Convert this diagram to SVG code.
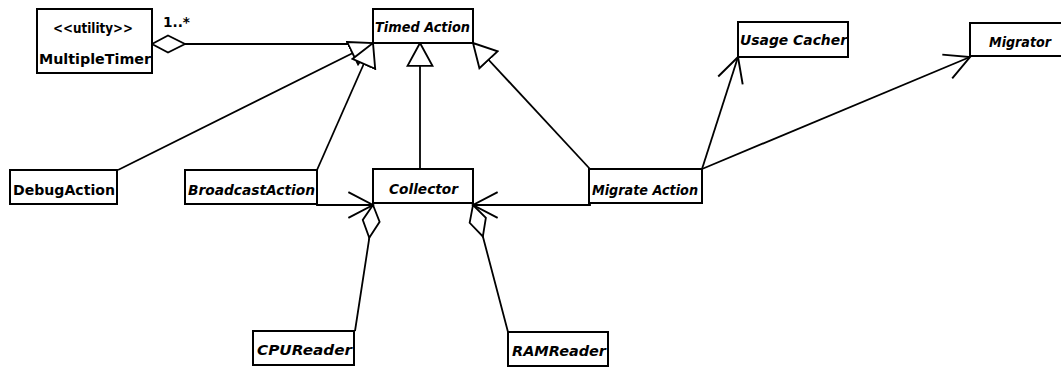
<svg xmlns="http://www.w3.org/2000/svg" width="1061" height="367" viewBox="0 0 1061 367">
<style>
.box{fill:#fff;stroke:#000;stroke-width:2}
.t{font-family:"DejaVu Sans","Liberation Sans",sans-serif;font-weight:bold;font-size:13.5px;fill:#000}
.i{font-style:italic}
.c{fill:none;stroke:#000;stroke-width:1.8}
</style>
<defs>
<marker id="gen" markerUnits="userSpaceOnUse" markerWidth="26" markerHeight="28" viewBox="-1 -13 25 26" refX="22" refY="0" orient="auto">
<path d="M0,-12 L22,0 L0,12 Z" fill="#fff" stroke="#000" stroke-width="1.8"/>
</marker>
<marker id="open" markerUnits="userSpaceOnUse" markerWidth="28" markerHeight="30" viewBox="-1 -14 26 28" refX="23" refY="0" orient="auto">
<path d="M0,-12 L23,0 L0,12" fill="none" stroke="#000" stroke-width="1.8"/>
</marker>
<marker id="agg" markerUnits="userSpaceOnUse" markerWidth="38" markerHeight="20" viewBox="-1 -10 37 20" refX="0" refY="0" orient="auto">
<path d="M0,0 L16,-8.5 L33,0 L16,8.5 Z" fill="#fff" stroke="#000" stroke-width="1.8"/>
</marker>
</defs>
<rect width="1061" height="367" fill="#fff"/>
<g id="connectors">
<path class="c" d="M152,44 L373,44" marker-start="url(#agg)"/>
<path class="c" d="M118,170 L373,43" marker-end="url(#gen)"/>
<path class="c" d="M317,170 L373,43" marker-end="url(#gen)"/>
<path class="c" d="M420,169 L420,43" marker-end="url(#gen)"/>
<path class="c" d="M590,169 L473,43" marker-end="url(#gen)"/>
<path class="c" d="M317,204 L317,205 L373,205" marker-end="url(#open)"/>
<path class="c" d="M590,203 L590,205 L473,205" marker-end="url(#open)"/>
<path class="c" d="M373,205 L369,240 L355,331" marker-start="url(#agg)"/>
<path class="c" d="M473,205 L483,237 L508,332" marker-start="url(#agg)"/>
<path class="c" d="M702,169 L738,57" marker-end="url(#open)"/>
<path class="c" d="M702,169 L970,57" marker-end="url(#open)"/>
<text class="t" x="163" y="27" textLength="27" lengthAdjust="spacingAndGlyphs">1..*</text>
</g>
<g id="MultipleTimer">
<rect class="box" x="37" y="9" width="115" height="64"/>
<text class="t" x="53" y="33" textLength="80" lengthAdjust="spacingAndGlyphs">&lt;&lt;utility&gt;&gt;</text>
<text class="t" x="39" y="64" textLength="112" lengthAdjust="spacingAndGlyphs">MultipleTimer</text>
</g>
<g id="TimedAction">
<rect class="box" x="373" y="9" width="100" height="34"/>
<text class="t i" x="375" y="32" textLength="95" lengthAdjust="spacingAndGlyphs">Timed Action</text>
</g>
<g id="DebugAction">
<rect class="box" x="10" y="170" width="107" height="34"/>
<text class="t" x="13" y="195" textLength="102" lengthAdjust="spacingAndGlyphs">DebugAction</text>
</g>
<g id="BroadcastAction">
<rect class="box" x="185" y="170" width="132" height="34"/>
<text class="t i" x="188" y="195" textLength="127" lengthAdjust="spacingAndGlyphs">BroadcastAction</text>
</g>
<g id="Collector">
<rect class="box" x="373" y="169" width="100" height="34"/>
<text class="t i" x="389" y="194" textLength="69" lengthAdjust="spacingAndGlyphs">Collector</text>
</g>
<g id="MigrateAction">
<rect class="box" x="589" y="169" width="113" height="34"/>
<text class="t i" x="592" y="195" textLength="106" lengthAdjust="spacingAndGlyphs">Migrate Action</text>
</g>
<g id="UsageCacher">
<rect class="box" x="738" y="22" width="110" height="35"/>
<text class="t i" x="740" y="45" textLength="107" lengthAdjust="spacingAndGlyphs">Usage Cacher</text>
</g>
<g id="Migrator">
<rect class="box" x="970" y="23" width="100" height="33"/>
<text class="t i" x="989" y="47" textLength="62" lengthAdjust="spacingAndGlyphs">Migrator</text>
</g>
<g id="CPUReader">
<rect class="box" x="253" y="331" width="101" height="34"/>
<text class="t i" x="257" y="355" textLength="95" lengthAdjust="spacingAndGlyphs">CPUReader</text>
</g>
<g id="RAMReader">
<rect class="box" x="508" y="332" width="100" height="34"/>
<text class="t i" x="512" y="356" textLength="94" lengthAdjust="spacingAndGlyphs">RAMReader</text>
</g>
</svg>
